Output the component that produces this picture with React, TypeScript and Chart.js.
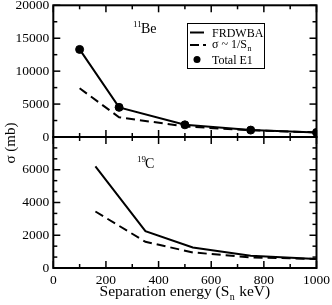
import React, { useEffect, useRef } from 'react';
import { Chart, registerables } from 'chart.js';

Chart.register(...registerables);

// 11Be panel
const beSn = [100, 250, 500, 750, 1000];
const beFrdwba = [13300, 4500, 1850, 1050, 700];
const beInverse = [7400, 3000, 1600, 1020, 700];
const beTotalE1 = [13300, 4500, 1850, 1050, 700];

// 19C panel
const cSn = [160, 350, 530, 750, 1000];
const cFrdwba = [6200, 2250, 1250, 750, 550];
const cInverse = [3450, 1600, 950, 650, 550];

const seriesLabels = ['FRDWBA', 'σ ~ 1/S', 'Total E1'];
const xLabelMain = 'Separation energy (S';
const xLabelSub = 'n';
const xLabelTail = ' keV)';
const yTitle = 'σ (mb)';

const FONT = "'Liberation Serif', 'Times New Roman', serif";
Chart.defaults.font.family = FONT;
Chart.defaults.color = '#000';

const pts = (xs: number[], ys: number[]) => xs.map((x, i) => ({ x, y: ys[i] }));

function frameTicksPlugin(xMajor: number, xMinor: number, yMajor: number, yMinor: number) {
  return {
    id: 'frameTicks',
    afterDatasetsDraw(chart: any) {
      const { ctx, chartArea: a, scales } = chart;
      const xs = scales.x, ys = scales.y;
      ctx.save();
      ctx.strokeStyle = '#000';
      ctx.lineWidth = 1.5;
      const seg = (x1: number, y1: number, x2: number, y2: number) => {
        ctx.beginPath(); ctx.moveTo(x1, y1); ctx.lineTo(x2, y2); ctx.stroke();
      };
      const isMajor = (v: number, m: number) => Math.abs(v / m - Math.round(v / m)) < 1e-6;
      const nx = Math.round((xs.max - xs.min) / xMinor);
      for (let i = 0; i <= nx; i++) {
        const v = xs.min + i * xMinor;
        const p = xs.getPixelForValue(v);
        const len = isMajor(v, xMajor) ? 7 : 4;
        seg(p, a.top, p, a.top + len);
        seg(p, a.bottom, p, a.bottom - len);
      }
      const ny = Math.round((ys.max - ys.min) / yMinor);
      for (let i = 0; i <= ny; i++) {
        const v = ys.min + i * yMinor;
        const p = ys.getPixelForValue(v);
        const len = isMajor(v, yMajor) ? 7 : 4;
        seg(a.left, p, a.left + len, p);
        seg(a.right, p, a.right - len, p);
      }
      ctx.lineWidth = 2;
      ctx.strokeRect(a.left, a.top, a.right - a.left, a.bottom - a.top);
      ctx.restore();
    },
  };
}

const legendPlugin = {
  id: 'boxLegend',
  afterDraw(chart: any) {
    const { ctx } = chart;
    ctx.save();
    ctx.strokeStyle = '#000';
    ctx.fillStyle = '#000';
    ctx.lineWidth = 1;
    ctx.strokeRect(187.5, 23.5, 77, 45);
    ctx.font = `12px ${FONT}`;
    ctx.textBaseline = 'alphabetic';
    ctx.textAlign = 'left';
    ctx.lineWidth = 2;
    ctx.beginPath(); ctx.moveTo(190, 32.5); ctx.lineTo(204, 32.5); ctx.stroke();
    ctx.fillText(seriesLabels[0], 212, 36.5);
    ctx.setLineDash([9, 4]);
    ctx.beginPath(); ctx.moveTo(190, 45); ctx.lineTo(206, 45); ctx.stroke();
    ctx.setLineDash([]);
    ctx.fillText(seriesLabels[1], 212, 48);
    const w = ctx.measureText(seriesLabels[1]).width;
    ctx.font = `8px ${FONT}`;
    ctx.fillText('n', 212 + w + 0.5, 51);
    ctx.font = `12px ${FONT}`;
    ctx.beginPath(); ctx.arc(197, 59.5, 3.5, 0, Math.PI * 2); ctx.fill();
    ctx.fillText(seriesLabels[2], 212, 63.5);
    ctx.font = `9px ${FONT}`;
    ctx.fillText('11', 133, 27);
    ctx.font = `14px ${FONT}`;
    ctx.fillText('Be', 141, 33);
    ctx.restore();
  },
};

const bottomTextPlugin = {
  id: 'bottomText',
  afterDraw(chart: any) {
    const { ctx } = chart;
    ctx.save();
    ctx.fillStyle = '#000';
    ctx.textBaseline = 'alphabetic';
    ctx.textAlign = 'left';
    ctx.font = `9px ${FONT}`;
    ctx.fillText('19', 137, 52);
    ctx.font = `14px ${FONT}`;
    ctx.fillText('C', 145, 58);
    const a = chart.chartArea;
    ctx.font = `15.5px ${FONT}`;
    const w1 = ctx.measureText(xLabelMain).width;
    const w3 = ctx.measureText(xLabelTail).width;
    ctx.font = `10px ${FONT}`;
    const w2 = ctx.measureText(xLabelSub).width;
    const total = w1 + w2 + w3 + 1;
    const cx = (a.left + a.right) / 2;
    let x = cx - total / 2;
    const by = 186;
    ctx.font = `15.5px ${FONT}`;
    ctx.fillText(xLabelMain, x, by);
    x += w1 + 0.5;
    ctx.font = `10px ${FONT}`;
    ctx.fillText(xLabelSub, x, by + 4);
    x += w2 + 0.5;
    ctx.font = `15.5px ${FONT}`;
    ctx.fillText(xLabelTail, x, by);
    ctx.translate(11, 33);
    ctx.rotate(-Math.PI / 2);
    ctx.textAlign = 'center';
    ctx.textBaseline = 'middle';
    ctx.font = `15px ${FONT}`;
    ctx.fillText(yTitle, 0, 0);
    ctx.restore();
  },
};

const tickFont = { family: FONT, size: 13.5 };
const plain = (v: any) => String(v);

export default function App() {
  const topRef = useRef<HTMLCanvasElement>(null);
  const botRef = useRef<HTMLCanvasElement>(null);

  useEffect(() => {
    const top = new Chart(topRef.current!, {
      type: 'line',
      data: {
        datasets: [
          { label: seriesLabels[0], data: pts(beSn, beFrdwba), borderColor: '#000', borderWidth: 2, pointRadius: 0, fill: false },
          { label: seriesLabels[1], data: pts(beSn, beInverse), borderColor: '#000', borderWidth: 2, borderDash: [9, 5], pointRadius: 0, fill: false },
          { label: seriesLabels[2], data: pts(beSn, beTotalE1), showLine: false, pointRadius: 4, pointBackgroundColor: '#000', pointBorderColor: '#000', borderColor: '#000' },
        ],
      },
      options: {
        animation: false,
        responsive: false,
        devicePixelRatio: 1,
        layout: { padding: { left: 0, right: 15.5, top: 5.3, bottom: 13 } },
        plugins: { legend: { display: false }, tooltip: { enabled: false } },
        scales: {
          x: { type: 'linear', min: 0, max: 1000, display: false },
          y: {
            type: 'linear', min: 0, max: 20000,
            ticks: { stepSize: 5000, color: '#000', font: tickFont, padding: 4, callback: plain },
            grid: { display: false, drawTicks: false },
            border: { display: false },
            afterFit: (s: any) => { s.width = 53.3; s.paddingTop = 0; s.paddingBottom = 0; },
          },
        },
      } as any,
      plugins: [frameTicksPlugin(200, 100, 5000, 2500), legendPlugin],
    });

    const bot = new Chart(botRef.current!, {
      type: 'line',
      data: {
        datasets: [
          { label: seriesLabels[0], data: pts(cSn, cFrdwba), borderColor: '#000', borderWidth: 2, pointRadius: 0, fill: false },
          { label: seriesLabels[1], data: pts(cSn, cInverse), borderColor: '#000', borderWidth: 2, borderDash: [9, 5], pointRadius: 0, fill: false },
        ],
      },
      options: {
        animation: false,
        responsive: false,
        devicePixelRatio: 1,
        layout: { padding: { left: 0, right: 15.5, top: 27, bottom: 0 } },
        plugins: { legend: { display: false }, tooltip: { enabled: false } },
        scales: {
          x: {
            type: 'linear', min: 0, max: 1000,
            ticks: { stepSize: 200, color: '#000', font: tickFont, padding: 4, maxRotation: 0, callback: plain },
            grid: { display: false, drawTicks: false },
            border: { display: false },
            afterFit: (s: any) => { s.height = 37; s.paddingLeft = 0; s.paddingRight = 0; },
          },
          y: {
            type: 'linear', min: 0, max: 8000,
            ticks: { stepSize: 2000, color: '#000', font: tickFont, padding: 4, callback: (v: any) => (v === 8000 ? '' : String(v)) },
            grid: { display: false, drawTicks: false },
            border: { display: false },
            afterFit: (s: any) => { s.width = 53.3; s.paddingTop = 0; s.paddingBottom = 0; },
          },
        },
      } as any,
      plugins: [frameTicksPlugin(200, 100, 2000, 2000 / 3), bottomTextPlugin],
    });

    return () => { top.destroy(); bot.destroy(); };
  }, []);

  return (
    <div style={{ position: 'absolute', left: 0, top: 0, width: 332, height: 305, background: '#fff' }}>
      <canvas ref={botRef} width={332} height={195} style={{ position: 'absolute', left: 0, top: 110, width: 332, height: 195 }} />
      <canvas ref={topRef} width={332} height={150} style={{ position: 'absolute', left: 0, top: 0, width: 332, height: 150 }} />
    </div>
  );
}
